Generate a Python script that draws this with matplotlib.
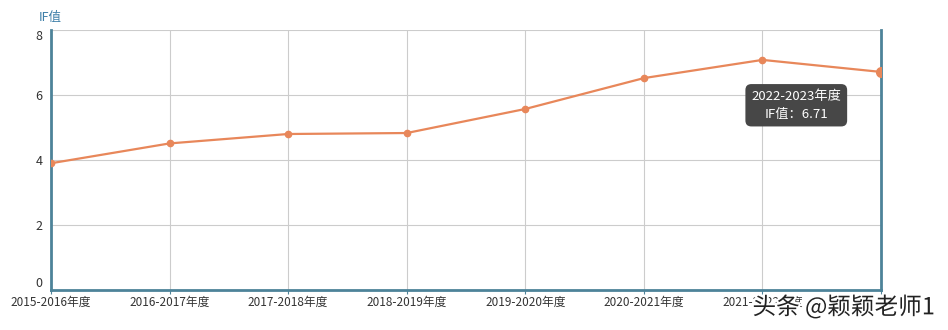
import matplotlib.pyplot as plt
import matplotlib.patheffects as pe

plt.rcParams['font.family'] = ['Noto Sans CJK SC', 'DejaVu Sans']

# data
years = ['2015-2016年度', '2016-2017年度', '2017-2018年度', '2018-2019年度',
         '2019-2020年度', '2020-2021年度', '2021-2022年度', '2022-2023年度']
if_values = [3.90, 4.51, 4.80, 4.83, 5.57, 6.52, 7.08, 6.71]
y_ticks = [0, 2, 4, 6, 8]

line_color = '#e8875a'
axis_color = '#4d8399'
grid_color = '#cccccc'

fig = plt.figure(figsize=(9.48, 3.30), dpi=100)
ax = fig.add_axes([51 / 948, 40 / 330, 830 / 948, 260 / 330])

x = list(range(len(years)))
ax.plot(x, if_values, color=line_color, linewidth=1.6, marker='o',
        markersize=4.5, zorder=3)
# hovered point drawn bigger
ax.plot(x[-1], if_values[-1], 'o', color=line_color, markersize=7, zorder=4)

ax.set_xlim(0, len(years) - 1)
ax.set_ylim(0, 8)
ax.set_yticks(y_ticks)
ax.set_xticks(x)
ax.set_xticklabels(years, fontsize=8.5, color='#333333')
ax.tick_params(axis='y', length=0, labelsize=9, colors='#333333', pad=6)
ax.tick_params(axis='x', length=3, color=axis_color, pad=1)
# last category label is cut off at the right edge in the original
ax.get_xticklabels()[-1].set_visible(False)
# end labels sit inside the axis range, like the original
ylabels = ax.get_yticklabels()
ylabels[0].set_verticalalignment('bottom')
ylabels[-1].set_verticalalignment('top')
ax.grid(True, color=grid_color, linewidth=0.8)
ax.set_axisbelow(True)

for side in ['left', 'right', 'bottom']:
    ax.spines[side].set_color(axis_color)
    ax.spines[side].set_linewidth(2)
ax.spines['top'].set_visible(False)

fig.text(39 / 948, 1 - 17 / 330, 'IF值', fontsize=9, color='#3d7fa8',
         va='center', ha='left')

# tooltip for the last point
ax.annotate(f'{years[-1]}\nIF值：{if_values[-1]:.2f}',
            xy=(x[-1], if_values[-1]), xytext=(-61, -24),
            textcoords='offset points', ha='center', va='center',
            fontsize=9.5, color='white', linespacing=1.45,
            bbox=dict(boxstyle='round,pad=0.45', fc='#474747', ec='none'))

# watermark
fig.text(935 / 948, 1 - 307 / 330, '头条 @颖颖老师1', fontsize=17,
         color='#222222', ha='right', va='center',
         path_effects=[pe.withStroke(linewidth=3, foreground='white')])

fig.savefig('out.png', dpi=100)
